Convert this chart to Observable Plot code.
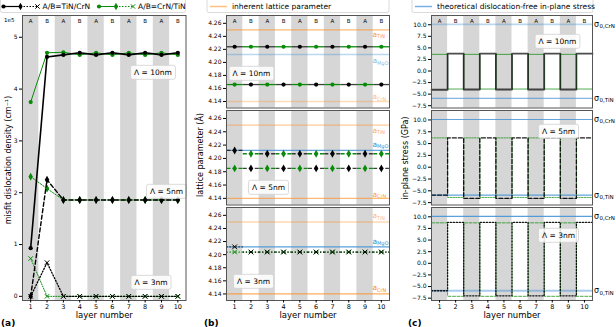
<!DOCTYPE html>
<html><head><meta charset="utf-8">
<script src="https://cdn.jsdelivr.net/npm/d3@7"></script>
<script src="https://cdn.jsdelivr.net/npm/@observablehq/plot@0.6"></script>
<style>
html,body{margin:0;padding:0;background:#fff;}
#root{position:relative;width:616px;height:327px;overflow:hidden;background:#fff;font-family:"DejaVu Sans",sans-serif;}
#root svg{position:absolute;overflow:visible;background:transparent;}
</style></head><body><div id="root"></div>
<script>
// ---------------- data ----------------
const layers = [1,2,3,4,5,6,7,8,9,10];
const layerType = ["A","B","A","B","A","B","A","B","A","B"];

// (a) misfit dislocation density, in units of 1e5 cm^-1
const densTiNCrN10 = [0.93,4.62,4.66,4.70,4.66,4.70,4.66,4.70,4.66,4.70];
const densTiNCrN5  = [0.00,2.25,1.86,1.86,1.86,1.86,1.86,1.86,1.86,1.86];
const densTiNCrN3  = [0.00,0.65,0.00,0.00,0.00,0.00,0.00,0.00,0.00,0.00];
const densCrNTiN10 = [3.75,4.70,4.71,4.66,4.70,4.66,4.70,4.66,4.70,4.66];
const densCrNTiN5  = [2.31,2.08,1.86,1.86,1.86,1.86,1.86,1.86,1.86,1.86];
const densCrNTiN3  = [0.73,0.00,0.00,0.00,0.00,0.00,0.00,0.00,0.00,0.00];
const densTicks = [0,1,2,3,4,5];

// (b) lattice parameter (Å)
const latTiNCrN10 = [4.224,4.166,4.224,4.166,4.224,4.166,4.224,4.166,4.224,4.166];
const latCrNTiN10 = [4.166,4.224,4.166,4.224,4.166,4.224,4.166,4.224,4.166,4.224];
const latTiNCrN5  = [4.212,4.185,4.207,4.185,4.207,4.185,4.207,4.185,4.207,4.185];
const latCrNTiN5  = [4.185,4.207,4.185,4.207,4.185,4.207,4.185,4.207,4.185,4.207];
const latTiNCrN3  = [4.212,4.204,4.204,4.204,4.204,4.204,4.204,4.204,4.204,4.204];
const latCrNTiN3  = [4.204,4.204,4.204,4.204,4.204,4.204,4.204,4.204,4.204,4.204];
const aTiN = 4.25, aMgO = 4.212, aCrN = 4.14;
const latTicks = [4.14,4.16,4.18,4.20,4.22,4.24,4.26];

// (c) in-plane stress (GPa)
const strTiNCrN10 = [-4.05,3.75,-4.0,3.75,-4.0,3.75,-4.0,3.75,-4.0,3.75];
const strCrNTiN10 = [3.6,-3.9,3.6,-3.9,3.6,-3.9,3.6,-3.9,3.6,-3.9];
const strTiNCrN5  = [-5.9,6.2,-6.6,6.2,-6.6,6.2,-6.6,6.2,-6.6,6.2];
const strCrNTiN5  = [6.2,-6.4,6.2,-6.4,6.2,-6.4,6.2,-6.4,6.2,-6.4];
const strTiNCrN3  = [-5.9,8.8,-7.0,8.8,-7.0,8.8,-7.0,8.8,-7.0,8.8];
const strCrNTiN3  = [8.7,-7.1,8.7,-7.1,8.7,-7.1,8.7,-7.1,8.7,-7.1];
const sigma0CrN = 10.1, sigma0TiN = -5.9;
const strTicks = [-7.5,-5,-2.5,0,2.5,5,7.5,10];

// ---------------- styling / layout ----------------
const FONT = "DejaVu Sans";
const GREEN = "#0a8a0a", BLACK = "#000", BAND = "#d6d6d6";
const ORANGE = "#ff8c1a", BLUE = "#3d8fd6";
const root = document.getElementById("root");
const bandLayers = layers.filter((d,i)=>layerType[i]==="A");
const rows = arr => layers.map((l,i)=>({layer:l, v:arr[i]}));
const steps = arr => arr.flatMap((v,i)=>[{layer:layers[i]-0.5, v},{layer:layers[i]+0.5, v}]);
const ROWS = [{T:15,B:107.5},{T:110,B:204.5},{T:207,B:300}];

function symOpts(sym, color){
  return sym==="times" ? {symbol:"times", stroke:color, strokeWidth:1, r:2.2}
                       : {symbol:sym, fill:color, r: sym==="diamond"?2.4:2.1};
}

function panel({L,R,T,B,yDomain,yTicks,yFormat,xAxis,top,marks}){
  const ml=45, mr=35, mt=18, mb=28;
  const m = [
    Plot.rect(bandLayers, {x1:d=>d-0.5, x2:d=>d+0.5, fill:BAND}),
    ...marks,
    Plot.axisY(yTicks, {tickSize:3, tickPadding:2, fontSize:6, tickFormat:yFormat, label:null}),
    Plot.frame({stroke:"#555", strokeWidth:1})
  ];
  if (xAxis) {
    m.push(Plot.axisX(layers, {tickSize:2.5, tickPadding:1, fontSize:6.5, label:null}));
    m.push(Plot.text(["layer number"], {frameAnchor:"bottom", dy:17.5, fontSize:8.5}));
  }
  if (top) m.push(Plot.text(layers, {x:d=>d, text:(d,i)=>layerType[i], frameAnchor:"top", dy:3.5, fontSize:5.5}));
  const svg = Plot.plot({
    width:(R-L)+ml+mr, height:(B-T)+mt+mb,
    marginLeft:ml, marginRight:mr, marginTop:mt, marginBottom:mb,
    x:{domain:[0.5,10.5], axis: xAxis ? undefined : null},
    y:{domain:yDomain},
    style:{fontFamily:FONT, fontSize:"6px", overflow:"visible", background:"transparent"},
    marks:m
  });
  svg.style.position="absolute";
  svg.style.left=(L-ml)+"px";
  svg.style.top=(T-mt)+"px";
  root.appendChild(svg);
  // boxes behind the Λ labels
  d3.select(svg).selectAll("text").filter(function(){return this.textContent.startsWith("Λ");}).each(function(){
    const bb=this.getBBox();
    const r=document.createElementNS("http://www.w3.org/2000/svg","rect");
    r.setAttribute("x",bb.x-3.5); r.setAttribute("y",bb.y-2.5);
    r.setAttribute("width",bb.width+7); r.setAttribute("height",bb.height+5);
    r.setAttribute("rx",2); r.setAttribute("fill","white"); r.setAttribute("fill-opacity",0.85);
    r.setAttribute("stroke","#d0d0d0"); r.setAttribute("stroke-width",0.8);
    if (this.getAttribute("transform")) r.setAttribute("transform", this.getAttribute("transform"));
    this.parentNode.insertBefore(r, this);
  });
  return svg;
}

function lambdaLabel(txt, dx, dy){
  return Plot.text([txt], {frameAnchor:"top-left", dx, dy, textAnchor:"middle", fontSize:7.5});
}

// ---------------- panel (a) ----------------
const aSeries = [
  {d:densCrNTiN10, c:GREEN, dash:null, w:1, sym:"circle"},
  {d:densCrNTiN5,  c:GREEN, dash:"1.5,1.5", w:1, sym:"diamond"},
  {d:densCrNTiN3,  c:GREEN, dash:"1,1.5", w:1, sym:"times"},
  {d:densTiNCrN10, c:BLACK, dash:null, w:1.6, sym:"circle"},
  {d:densTiNCrN5,  c:BLACK, dash:"4,2.5", w:1.4, sym:"diamond"},
  {d:densTiNCrN3,  c:BLACK, dash:"1.2,1.8", w:1.3, sym:"times"}
];
panel({L:21.5, R:185, T:15, B:300, yDomain:[-0.08,5.42], yTicks:densTicks, yFormat:d=>String(d), xAxis:true, top:true,
  marks:[
    ...aSeries.flatMap(s=>[
      Plot.line(rows(s.d), {x:"layer", y:"v", stroke:s.c, strokeWidth:s.w, strokeDasharray:s.dash}),
      Plot.dot(rows(s.d), {x:"layer", y:"v", ...symOpts(s.sym, s.c)})
    ]),
    Plot.text(["1e5"], {frameAnchor:"top-left", dx:-8, dy:2.5, textAnchor:"end", fontSize:5.5}),
    lambdaLabel("Λ = 10nm", 130.5, 54),
    lambdaLabel("Λ = 5nm", 144, 173),
    lambdaLabel("Λ = 3nm", 128.5, 264)
  ]});

// ---------------- panel (b) ----------------
function refLine(val, color, op, w, sub, ty){
  return [
    Plot.ruleY([val], {y:d=>d, stroke:color, strokeOpacity:op, strokeWidth:w}),
    Plot.text([val], {y:d=>d, frameAnchor:"right", dx:-17, dy:ty, text:()=>"a", textAnchor:"start", fill:color, fillOpacity:Math.min(1,op+0.3), fontSize:7.5}),
    Plot.text([val], {y:d=>d, frameAnchor:"right", dx:-12.5, dy:ty+2, text:()=>sub, textAnchor:"start", fill:color, fillOpacity:Math.min(1,op+0.3), fontSize:5})
  ];
}
const bSubs = [
  {blk:latTiNCrN10, grn:latCrNTiN10, dash:null, sym:"circle", lab:"Λ = 10nm", lx:25, ly:55,
   refs:[[aTiN,ORANGE,0.6,1.2,"TiN",4.5],[aMgO,BLUE,0.35,1.5,"MgO",6.5],[aCrN,ORANGE,0.3,1.5,"CrN",-4.5]]},
  {blk:latTiNCrN5, grn:latCrNTiN5, dash:"4,2", sym:"diamond", lab:"Λ = 5nm", lx:42, ly:74,
   refs:[[aTiN,ORANGE,0.45,1.2,"TiN",5.5],[aMgO,BLUE,0.8,1.2,"MgO",-6],[aCrN,ORANGE,0.6,1.2,"CrN",-4]]},
  {blk:latTiNCrN3, grn:latCrNTiN3, dash:"1.3,1.7", sym:"times", lab:"Λ = 3nm", lx:27, ly:71,
   refs:[[aTiN,ORANGE,0.35,1.5,"TiN",-6],[aMgO,BLUE,0.85,1.2,"MgO",-5],[aCrN,ORANGE,0.7,1.2,"CrN",-6]]}
];
bSubs.forEach((s,k)=>{
  const seg = (arr,c,w,op)=>Plot.link(rows(arr), {x1:d=>d.layer-0.5, x2:d=>d.layer+0.5, y1:"v", y2:"v", stroke:c, strokeWidth:w, strokeOpacity:op, strokeDasharray:s.dash});
  panel({L:226, R:389, T:ROWS[k].T, B:ROWS[k].B, yDomain:[4.130,4.272], yTicks:latTicks, yFormat:".2f", xAxis:k===2, top:k===0,
    marks:[
      ...s.refs.flatMap(r=>refLine(...r)),
      seg(s.grn, GREEN, 1.3, 1),
      seg(s.blk, BLACK, 1.3, 0.75),
      Plot.dot(rows(s.grn), {x:"layer", y:"v", ...symOpts(s.sym, GREEN)}),
      Plot.dot(rows(s.blk), {x:"layer", y:"v", ...symOpts(s.sym, BLACK)}),
      lambdaLabel(s.lab, s.lx, s.ly)
    ]});
});

// ---------------- panel (c) ----------------
function sigmaLine(val, op, w, sub){
  return [
    Plot.ruleY([val], {y:d=>d, stroke:BLUE, strokeOpacity:op, strokeWidth:w}),
    Plot.text([val], {y:d=>d, frameAnchor:"right", dx:1.5, text:()=>"σ", textAnchor:"start", fontSize:8}),
    Plot.text([val], {y:d=>d, frameAnchor:"right", dx:7, dy:2, text:()=>sub, textAnchor:"start", fontSize:5.5})
  ];
}
const cSubs = [
  {blk:strTiNCrN10, grn:strCrNTiN10, bdash:null, gdash:null, bw:1.8, bop:0.7, lab:"Λ = 10nm", lx:126, ly:23,
   sig:[[sigma0CrN,0.35,1.8,"0,CrN"],[sigma0TiN,0.8,1,"0,TiN"]]},
  {blk:strTiNCrN5, grn:strCrNTiN5, bdash:"4,2", gdash:"1.5,1.2", bw:1.3, bop:0.9, lab:"Λ = 5nm", lx:127, ly:18,
   sig:[[sigma0CrN,0.8,1.2,"0,CrN"],[sigma0TiN,0.8,1.2,"0,TiN"]]},
  {blk:strTiNCrN3, grn:strCrNTiN3, bdash:"1.3,1.7", gdash:"3,1.5", bw:1.3, bop:0.9, lab:"Λ = 3nm", lx:127, ly:25,
   sig:[[sigma0CrN,0.85,1.2,"0,CrN"],[sigma0TiN,0.45,2,"0,TiN"]]}
];
cSubs.forEach((s,k)=>{
  panel({L:431, R:592, T:ROWS[k].T, B:ROWS[k].B, yDomain:[-8,12], yTicks:strTicks, yFormat:".1f", xAxis:k===2, top:k===0,
    marks:[
      ...s.sig.flatMap(r=>sigmaLine(...r)),
      Plot.line(steps(s.grn), {x:"layer", y:"v", stroke:GREEN, strokeWidth:0.9, strokeOpacity:0.8, strokeDasharray:s.gdash}),
      Plot.line(steps(s.blk), {x:"layer", y:"v", stroke:BLACK, strokeWidth:s.bw, strokeOpacity:s.bop, strokeDasharray:s.bdash}),
      lambdaLabel(s.lab, s.lx, s.ly)
    ]});
});

// ---------------- legends, axis titles & panel letters ----------------
const ov = d3.select(root).append("svg").attr("width",616).attr("height",327)
  .style("left","0px").style("top","0px").style("font-family",FONT);
function box(x,w){ ov.append("rect").attr("x",x).attr("y",-3).attr("width",w).attr("height",15.5).attr("rx",2)
  .attr("fill","white").attr("stroke","#d0d0d0").attr("stroke-width",0.8); }
function sym(type, x, y, color, size){
  const p = ov.append("path").attr("d", d3.symbol(type, size)()).attr("transform",`translate(${x},${y})`);
  if (type===d3.symbolTimes) p.attr("fill","none").attr("stroke",color).attr("stroke-width",1);
  else p.attr("fill",color);
}
function seriesKey(x0, color, w, label){
  const y=6.5;
  ov.append("line").attr("x1",x0).attr("x2",x0+17).attr("y1",y).attr("y2",y).attr("stroke",color).attr("stroke-width",w);
  ov.append("line").attr("x1",x0+17).attr("x2",x0+34).attr("y1",y).attr("y2",y).attr("stroke",color).attr("stroke-width",w).attr("stroke-dasharray","1.5,1.5");
  sym(d3.symbolCircle, x0, y, color, 14);
  sym(d3.symbolDiamond, x0+17, y, color, 16);
  sym(d3.symbolTimes, x0+34, y, color, 14);
  ov.append("text").attr("x",x0+39).attr("y",y).attr("dy","0.35em").attr("font-size",7.5).text(label);
}
box(0.5,185); seriesKey(3.5, BLACK, 1.2, "A/B=TiN/CrN"); seriesKey(99, GREEN, 1, "A/B=CrN/TiN");
box(207,182);
ov.append("line").attr("x1",210).attr("x2",227).attr("y1",6.5).attr("y2",6.5).attr("stroke",ORANGE).attr("stroke-opacity",0.55).attr("stroke-width",1.5);
ov.append("text").attr("x",232).attr("y",6.5).attr("dy","0.35em").attr("font-size",7.5).text("inherent lattice parameter");
box(412,181);
ov.append("line").attr("x1",415).attr("x2",432).attr("y1",6.5).attr("y2",6.5).attr("stroke",BLUE).attr("stroke-opacity",0.7).attr("stroke-width",1.5);
ov.append("text").attr("x",437).attr("y",6.5).attr("dy","0.35em").attr("font-size",7.5).text("theoretical dislocation-free in-plane stress");
[["misfit dislocation density (cm⁻¹)",8.5,160],["lattice parameter (Å)",200.5,155],["in-plane stress (GPa)",405,158]].forEach(([t,x,y])=>
  ov.append("text").attr("transform",`translate(${x},${y}) rotate(-90)`).attr("text-anchor","middle").attr("dy","0.35em").attr("font-size",8).text(t));
[["(a)",1],["(b)",204],["(c)",408]].forEach(([t,x])=>ov.append("text").attr("x",x).attr("y",325.5).attr("font-size",9).attr("font-weight","bold").text(t));
</script>
</body></html>
